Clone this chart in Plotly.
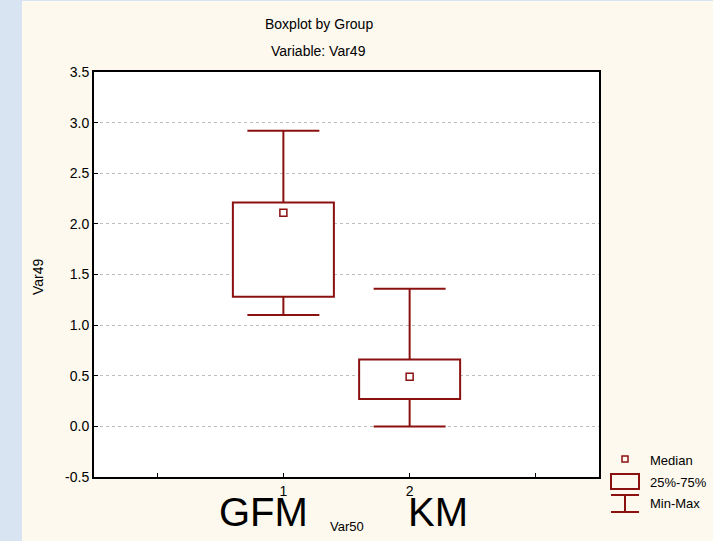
import plotly.graph_objects as go

# Box-plot summary per group of Var50
positions = [1, 2]
tick_vals = [0, 1, 2, 3]
tick_text = ["", "1", "2", ""]
group_names = ["GFM", "KM"]
v_min = [1.10, 0.00]
v_q1 = [1.28, 0.27]
v_median = [2.11, 0.49]
v_q3 = [2.21, 0.66]
v_max = [2.92, 1.36]

y_ticks = [-0.5, 0.0, 0.5, 1.0, 1.5, 2.0, 2.5, 3.0, 3.5]
y_tick_text = [f"{v:.1f}" for v in y_ticks]

W, H = 713, 541
L, R, T, B = 94, 599, 72, 477
RED = "#8b1010"
FONT = "Liberation Sans, Arial, sans-serif"


def px(xp):
    return (xp - L) / (R - L)


def py(yp):
    return (B - yp) / (B - T)


BOX_W = 0.8
CAP_W = 0.57

fig = go.Figure()

# 25%-75% boxes
fig.add_trace(go.Bar(
    x=positions,
    y=[a - b for a, b in zip(v_q3, v_q1)],
    base=v_q1,
    width=BOX_W,
    marker=dict(color="white", line=dict(color=RED, width=2)),
    hoverinfo="skip",
))

# Min-Max whiskers with caps
wx, wy = [], []
for p, lo, q1, q3, hi in zip(positions, v_min, v_q1, v_q3, v_max):
    wx += [p, p, None, p, p, None,
           p - CAP_W / 2, p + CAP_W / 2, None,
           p - CAP_W / 2, p + CAP_W / 2, None]
    wy += [q3, hi, None, q1, lo, None, hi, hi, None, lo, lo, None]
fig.add_trace(go.Scatter(x=wx, y=wy, mode="lines",
                         line=dict(color=RED, width=2), hoverinfo="skip"))

# Medians
fig.add_trace(go.Scatter(
    x=positions, y=v_median, mode="markers",
    marker=dict(symbol="square-open", size=7, color=RED,
                line=dict(color=RED, width=1.5)),
    hoverinfo="skip",
))

fig.update_xaxes(
    range=[-0.5, 3.5], tickvals=tick_vals, ticktext=tick_text,
    ticks="inside", ticklen=4, tickcolor="black", tickwidth=1,
    showline=True, linecolor="black", linewidth=2, mirror=True,
    showgrid=False, zeroline=False,
    tickfont=dict(family=FONT, size=14, color="black"),
)
fig.update_yaxes(
    range=[-0.5, 3.5], tickvals=y_ticks, ticktext=y_tick_text,
    ticks="inside", ticklen=4, tickcolor="black", tickwidth=1,
    showline=True, linecolor="black", linewidth=2, mirror=True,
    showgrid=True, gridcolor="#bdbdbd", griddash="dot", gridwidth=1,
    zeroline=False,
    tickfont=dict(family=FONT, size=14, color="black"),
)

shapes = [
    # textured blue strip at the left edge of the page
    dict(type="rect", xref="paper", yref="paper", layer="below",
         x0=px(0), x1=px(22), y0=py(H), y1=py(0),
         fillcolor="#d8e4f2", line=dict(width=0)),
    dict(type="rect", xref="paper", yref="paper", layer="below",
         x0=px(0), x1=px(W), y0=py(1), y1=py(0),
         fillcolor="#d8e4f2", line=dict(width=0)),
]

# legend icons
shapes += [
    dict(type="rect", xref="paper", yref="paper",
         x0=px(622), x1=px(628), y0=py(462), y1=py(456),
         line=dict(color=RED, width=1.5), fillcolor="rgba(0,0,0,0)"),
    dict(type="rect", xref="paper", yref="paper",
         x0=px(611), x1=px(639), y0=py(489), y1=py(474),
         line=dict(color=RED, width=2), fillcolor="rgba(0,0,0,0)"),
    dict(type="line", xref="paper", yref="paper",
         x0=px(611), x1=px(639), y0=py(495), y1=py(495),
         line=dict(color=RED, width=2)),
    dict(type="line", xref="paper", yref="paper",
         x0=px(625), x1=px(625), y0=py(495), y1=py(512),
         line=dict(color=RED, width=2)),
    dict(type="line", xref="paper", yref="paper",
         x0=px(611), x1=px(639), y0=py(512), y1=py(512),
         line=dict(color=RED, width=2)),
]


def label(text, xp, yp, size=14, xanchor="center", yanchor="middle", angle=0):
    return dict(text=text, xref="paper", yref="paper", x=px(xp), y=py(yp),
                xanchor=xanchor, yanchor=yanchor, showarrow=False,
                textangle=angle,
                font=dict(family=FONT, size=size, color="black"))


annotations = [
    label("Boxplot by Group", 319, 24, size=14),
    label("Variable: Var49", 318, 51, size=14),
    label("Var49", 38, 277, size=14, angle=-90),
    label("Var50", 347, 526, size=13),
    label("Median", 648, 460, size=13, xanchor="left"),
    label("25%-75%", 648, 482, size=13, xanchor="left"),
    label("Min-Max", 648, 503, size=13, xanchor="left"),
]
for name, pos in zip(group_names, positions):
    # big group names placed under their boxes
    xp = L + (pos + 0.5) / 4.0 * (R - L)
    annotations.append(label(name, xp - 20 if name == "GFM" else xp + 28,
                             512, size=40))

fig.update_layout(
    width=W, height=H,
    margin=dict(l=L, r=W - R, t=T, b=H - B),
    paper_bgcolor="#fdf9ee",
    plot_bgcolor="white",
    showlegend=False,
    barmode="overlay",
    shapes=shapes,
    annotations=annotations,
)

fig.write_html("out.html")
